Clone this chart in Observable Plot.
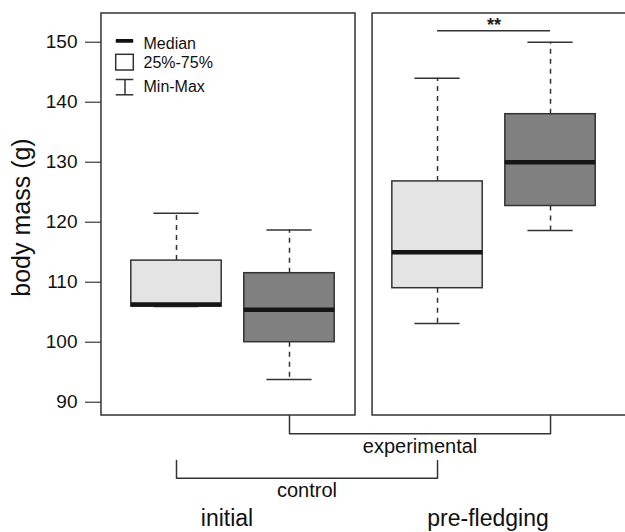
<!DOCTYPE html>
<html><head><meta charset="utf-8">
<script src="https://cdn.jsdelivr.net/npm/d3@7"></script>
<script src="https://cdn.jsdelivr.net/npm/@observablehq/plot@0.6"></script>
<style>
html,body{margin:0;padding:0;background:#fff;overflow:hidden;}
#chart{width:625px;height:532px;overflow:hidden;}
#chart svg{overflow:hidden;}
</style>
</head><body><div id="chart"></div>
<script>
// ---- data ----
const periods = ["initial", "pre-fledging"];
const groups = ["control", "experimental"];
const boxPeriod = ["initial", "initial", "pre-fledging", "pre-fledging"];
const boxGroup = ["control", "experimental", "control", "experimental"];
const minV = [105.95, 93.8, 103.1, 118.6];
const q1V  = [105.95, 100.0, 109.0, 122.7];
const medV = [106.3, 105.4, 115.0, 130.0];
const q3V  = [113.6, 111.5, 126.8, 138.0];
const maxV = [121.5, 118.7, 144.0, 150.0];
const yTicks = [90, 100, 110, 120, 130, 140, 150];
const yLabel = "body mass (g)";
const legendLabels = ["Median", "25%-75%", "Min-Max"];
const sigLabel = "**";

// ---- layout ----
const W = 625, H = 532;
const mL = 101, mR = 0, mT = 13, mB = 117;
const periodStep = 2.31;
const xDomain = [(mL - 63) / 113, (W - 63) / 113];
const yDomain = [150 - (H - mB - 41.7) / 6, 150 + (41.7 - mT) / 6];
const xs = d3.scaleLinear().domain(xDomain).range([mL, W - mR]);
const ys = d3.scaleLinear().domain(yDomain).range([H - mB, mT]);
const px = p => xs.invert(p), py = p => ys.invert(p);

const FONT = "Liberation Sans, Arial, Helvetica, sans-serif";
const INK = "#333";
const fills = ["#e3e4e3", "#808080"];

const boxes = boxPeriod.map((p, i) => ({
  period: p, group: boxGroup[i],
  xc: periods.indexOf(p) * periodStep + groups.indexOf(boxGroup[i]) + 1,
  min: minV[i], q1: q1V[i], med: medV[i], q3: q3V[i], max: maxV[i]
}));
const centers = (p) => boxes.filter(b => b.period === p).map(b => b.xc);

const padL = [0.664, 0.575], padR = [0.584, 0.8];
const panels = periods.map((p, i) => ({
  period: p,
  x1: d3.min(centers(p)) - padL[i],
  x2: d3.max(centers(p)) + padR[i]
}));

// brackets for groups below panels
const bracketPix = {experimental: [H - mB, 433.3], control: [460, 477.7]};
const labelPix = {experimental: 446, control: 490};
const bracketPts = [];
groups.forEach(g => {
  const xsG = boxes.filter(b => b.group === g).map(b => b.xc);
  const [t, b] = bracketPix[g];
  bracketPts.push({g, x: xsG[0], y: py(t)}, {g, x: xsG[0], y: py(b)},
                  {g, x: xsG[1], y: py(b)}, {g, x: xsG[1], y: py(t)});
});
const groupLabels = groups.map(g => {
  const xsG = boxes.filter(b => b.group === g).map(b => b.xc);
  return {label: g, x: (xsG[0] + xsG[1]) / 2, y: py(labelPix[g])};
});
const periodLabels = periods.map(p => {
  const c = centers(p);
  return {label: p, x: (c[0] + c[1]) / 2 - px(mL + 6) + px(mL), y: py(518)};
});

// significance
const pre = boxes.filter(b => b.period === "pre-fledging");
const sigY = py(30.3);

// legend
const lgX1 = px(115.7), lgX2 = px(133.3), lgXc = px(124.5), lgTx = px(143);

const plot = Plot.plot({
  width: W, height: H,
  marginLeft: mL, marginRight: mR, marginTop: mT, marginBottom: mB,
  style: {fontFamily: FONT, fontSize: "19px", color: "#111", background: "#fff"},
  x: {domain: xDomain, axis: null},
  y: {domain: yDomain, ticks: yTicks, tickSize: 16, tickPadding: 8, label: null},
  color: {domain: groups, range: fills},
  marks: [
    // whiskers
    Plot.ruleX(boxes, {x: "xc", y1: "q3", y2: "max", stroke: INK, strokeWidth: 1.5, strokeDasharray: "5,5"}),
    Plot.ruleX(boxes, {x: "xc", y1: "q1", y2: "min", stroke: INK, strokeWidth: 1.5, strokeDasharray: "5,5"}),
    Plot.ruleY(boxes, {y: "max", x1: d => d.xc - 0.2, x2: d => d.xc + 0.2, stroke: INK, strokeWidth: 1.5}),
    Plot.ruleY(boxes, {y: "min", x1: d => d.xc - 0.2, x2: d => d.xc + 0.2, stroke: INK, strokeWidth: 1.5}),
    // boxes
    Plot.rect(boxes, {x1: d => d.xc - 0.4, x2: d => d.xc + 0.4, y1: "q1", y2: "q3", fill: "group", stroke: INK, strokeWidth: 1.5}),
    Plot.ruleY(boxes, {y: "med", x1: d => d.xc - 0.4, x2: d => d.xc + 0.4, stroke: "#151515", strokeWidth: 4.5}),
    // panel frames
    Plot.rect(panels, {x1: "x1", x2: "x2", y1: yDomain[0], y2: yDomain[1], fill: "none", stroke: INK, strokeWidth: 1.5}),
    // significance
    Plot.ruleY([sigY], {x1: pre[0].xc, x2: pre[1].xc, stroke: INK, strokeWidth: 1.5}),
    Plot.text([sigLabel], {x: (pre[0].xc + pre[1].xc) / 2, y: py(25), text: d => d, fontSize: 18, fontWeight: "bold", fill: "#222"}),
    // legend
    Plot.rect([legendLabels[0]], {x1: lgX1, x2: lgX2, y1: py(42.7), y2: py(39), fill: "#111", rx: 1}),
    Plot.rect([legendLabels[1]], {x1: lgX1, x2: lgX2, y1: py(70), y2: py(54.3), fill: "#fff", stroke: INK, strokeWidth: 1.5}),
    Plot.ruleY([py(79), py(94.3)], {x1: lgX1, x2: lgX2, stroke: INK, strokeWidth: 1.5}),
    Plot.ruleX([lgXc], {y1: py(79), y2: py(94.3), stroke: INK, strokeWidth: 1.5}),
    Plot.text(legendLabels, {x: lgTx, y: (d, i) => py([43.8, 62, 86][i]), text: d => d, textAnchor: "start", fontSize: 16, fill: "#111"}),
    // y label
    Plot.text([yLabel], {x: px(21), y: py(217), text: d => d, rotate: -90, fontSize: 25, fill: "#111"}),
    // brackets
    Plot.line(bracketPts, {x: "x", y: "y", z: "g", stroke: INK, strokeWidth: 1.5}),
    Plot.text(groupLabels, {x: "x", y: "y", text: "label", fontSize: 20, fill: "#111"}),
    Plot.text(periodLabels, {x: "x", y: "y", text: "label", fontSize: 23, fill: "#111"})
  ]
});
document.getElementById("chart").appendChild(plot);
</script>
</body></html>
